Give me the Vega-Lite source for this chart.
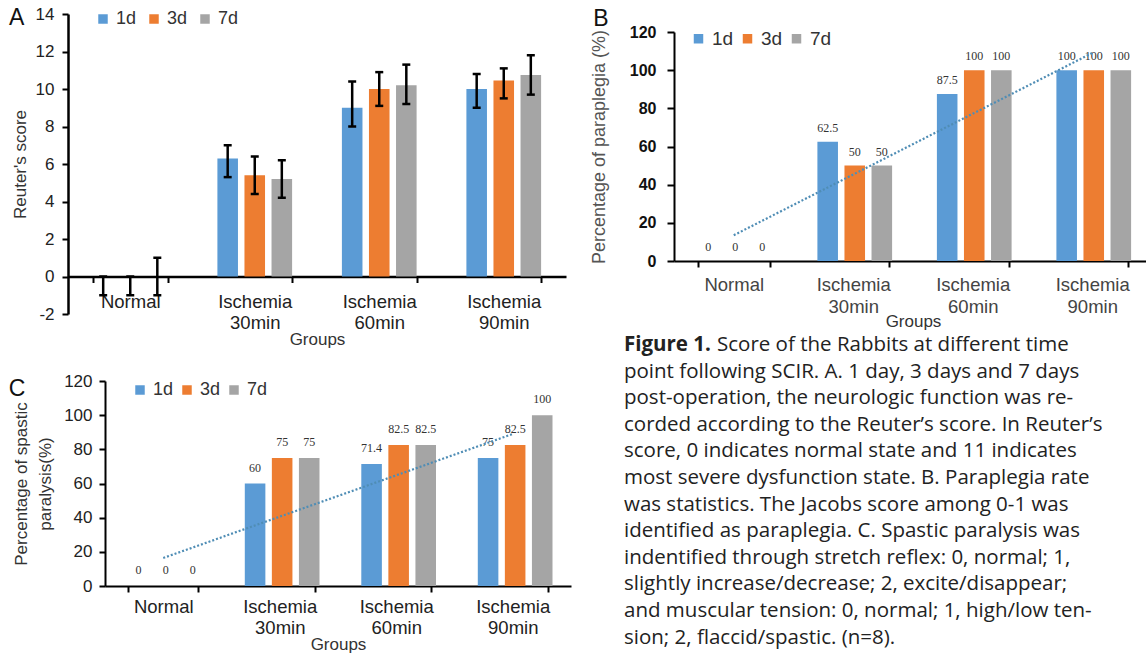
{
  "$schema": "https://vega.github.io/schema/vega-lite/v6.json",
  "background": "white",
  "padding": {"left": 8, "top": 5, "right": 0, "bottom": 0},
  "config": {
    "view": {"stroke": null},
    "font": "Liberation Sans",
    "axis": {"grid": false, "domainColor": "#000", "tickColor": "#000", "labelColor": "#222", "titleColor": "#333", "titleFontWeight": "normal", "titleFont": "Liberation Sans", "labelFont": "Liberation Sans"},
    "axisY": {"labelOverlap": false},
    "legend": {"orient": "none", "direction": "horizontal", "title": null, "symbolType": "square", "symbolSize": 90, "symbolStrokeWidth": 0, "labelFontSize": 18, "labelColor": "#333", "labelOffset": 4, "columnPadding": 8, "padding": 0},
    "title": {"fontWeight": "normal", "anchor": "start", "frame": "bounds", "fontSize": 23, "color": "#111", "font": "Liberation Sans"}
  },
  "datasets": {
    "reuter": [
      {"group": "Normal", "day": "1d", "score": 0, "lo": -1, "hi": 0},
      {"group": "Normal", "day": "3d", "score": 0, "lo": -1, "hi": 0},
      {"group": "Normal", "day": "7d", "score": 0, "lo": -1, "hi": 1},
      {"group": "Ischemia 30min", "day": "1d", "score": 6.3, "lo": 5.3, "hi": 7.0},
      {"group": "Ischemia 30min", "day": "3d", "score": 5.4, "lo": 4.4, "hi": 6.4},
      {"group": "Ischemia 30min", "day": "7d", "score": 5.2, "lo": 4.2, "hi": 6.2},
      {"group": "Ischemia 60min", "day": "1d", "score": 9.0, "lo": 8.0, "hi": 10.4},
      {"group": "Ischemia 60min", "day": "3d", "score": 10.0, "lo": 9.1, "hi": 10.9},
      {"group": "Ischemia 60min", "day": "7d", "score": 10.2, "lo": 9.2, "hi": 11.3},
      {"group": "Ischemia 90min", "day": "1d", "score": 10.0, "lo": 9.0, "hi": 10.8},
      {"group": "Ischemia 90min", "day": "3d", "score": 10.45, "lo": 9.5, "hi": 11.1},
      {"group": "Ischemia 90min", "day": "7d", "score": 10.75, "lo": 9.7, "hi": 11.8}
    ],
    "para": [
      {"group": "Normal", "day": "1d", "rate": 0},
      {"group": "Normal", "day": "3d", "rate": 0},
      {"group": "Normal", "day": "7d", "rate": 0},
      {"group": "Ischemia 30min", "day": "1d", "rate": 62.5},
      {"group": "Ischemia 30min", "day": "3d", "rate": 50},
      {"group": "Ischemia 30min", "day": "7d", "rate": 50},
      {"group": "Ischemia 60min", "day": "1d", "rate": 87.5},
      {"group": "Ischemia 60min", "day": "3d", "rate": 100},
      {"group": "Ischemia 60min", "day": "7d", "rate": 100},
      {"group": "Ischemia 90min", "day": "1d", "rate": 100},
      {"group": "Ischemia 90min", "day": "3d", "rate": 100},
      {"group": "Ischemia 90min", "day": "7d", "rate": 100}
    ],
    "spastic": [
      {"group": "Normal", "day": "1d", "rate": 0},
      {"group": "Normal", "day": "3d", "rate": 0},
      {"group": "Normal", "day": "7d", "rate": 0},
      {"group": "Ischemia 30min", "day": "1d", "rate": 60},
      {"group": "Ischemia 30min", "day": "3d", "rate": 75},
      {"group": "Ischemia 30min", "day": "7d", "rate": 75},
      {"group": "Ischemia 60min", "day": "1d", "rate": 71.4},
      {"group": "Ischemia 60min", "day": "3d", "rate": 82.5},
      {"group": "Ischemia 60min", "day": "7d", "rate": 82.5},
      {"group": "Ischemia 90min", "day": "1d", "rate": 75},
      {"group": "Ischemia 90min", "day": "3d", "rate": 82.5},
      {"group": "Ischemia 90min", "day": "7d", "rate": 100}
    ],
    "trendB": [
      {"group": "Normal", "value": 13.5},
      {"group": "Ischemia 90min", "value": 109}
    ],
    "trendC": [
      {"group": "Normal", "value": 16.4},
      {"group": "Ischemia 90min", "value": 89}
    ],
    "caption": [
      {"head": "Figure 1.", "first": "Score of the Rabbits at different time", "body": "point following SCIR. A. 1 day, 3 days and 7 days\npost-operation, the neurologic function was re-\ncorded according to the Reuter’s score. In Reuter’s\nscore, 0 indicates normal state and 11 indicates\nmost severe dysfunction state. B. Paraplegia rate\nwas statistics. The Jacobs score among 0-1 was\nidentified as paraplegia. C. Spastic paralysis was\nindentified through stretch reflex: 0, normal; 1,\nslightly increase/decrease; 2, excite/disappear;\nand muscular tension: 0, normal; 1, high/low ten-\nsion; 2, flaccid/spastic. (n=8)."}
    ]
  },
  "resolve": {"scale": {"color": "independent"}, "legend": {"color": "independent"}},
  "spacing": 19,
  "hconcat": [
    {
      "concat": [
        {
          "width": 498, "height": 300,
          "title": {"text": "A", "offset": -25, "dx": -2},
          "data": {"name": "reuter"},
          "layer": [
            {
              "mark": {"type": "bar"},
              "encoding": {
                "x": {"field": "group", "type": "nominal", "sort": null, "scale": {"domain": ["Normal", "Ischemia 30min", "Ischemia 60min", "Ischemia 90min"], "paddingInner": 0.4, "paddingOuter": 0.2},
                  "axis": {"title": "Groups", "offset": -37.5, "labelExpr": "split(datum.label, ' ')", "labelAngle": 0, "tickBand": "extent", "tickSize": 6, "tickWidth": 2, "domainWidth": 2.5, "labelFontSize": 18.5, "labelPadding": 9.5, "labelLineHeight": 21, "titleFontSize": 17, "titlePadding": 0}},
                "xOffset": {"field": "day", "type": "nominal", "sort": null, "scale": {"paddingInner": 0.24}},
                "y": {"field": "score", "type": "quantitative", "scale": {"domain": [-2, 14]},
                  "axis": {"values": [-2, 0, 2, 4, 6, 8, 10, 12, 14], "labelOverlap": false, "labelExpr": "datum.value + ''", "title": "Reuter's score", "titleFontSize": 17, "titlePadding": 6, "labelFontSize": 17, "labelPadding": 8, "tickSize": 6, "tickWidth": 2, "domainWidth": 2.5}},
                "color": {"field": "day", "type": "nominal", "scale": {"domain": ["1d", "3d", "7d"], "range": ["#5B9BD5", "#ED7D31", "#A5A5A5"]}, "legend": {"legendX": 26, "legendY": -4}}
              }
            },
            {
              "mark": {"type": "rule", "strokeWidth": 2.5, "color": "#000"},
              "encoding": {
                "x": {"field": "group", "type": "nominal", "sort": null},
                "xOffset": {"field": "day", "type": "nominal", "sort": null},
                "y": {"field": "lo", "type": "quantitative",
                  "axis": {"values": [-2, 0, 2, 4, 6, 8, 10, 12, 14], "labelOverlap": false, "labelExpr": "datum.value + ''", "title": "Reuter's score", "titleFontSize": 17, "titlePadding": 6, "labelFontSize": 17, "labelPadding": 8, "tickSize": 6, "tickWidth": 2, "domainWidth": 2.5}},
                "y2": {"field": "hi"}
              }
            },
            {
              "mark": {"type": "tick", "size": 8, "thickness": 2.5, "color": "#000", "opacity": 1},
              "encoding": {
                "x": {"field": "group", "type": "nominal", "sort": null},
                "xOffset": {"field": "day", "type": "nominal", "sort": null},
                "y": {"field": "lo", "type": "quantitative",
                  "axis": {"values": [-2, 0, 2, 4, 6, 8, 10, 12, 14], "labelOverlap": false, "labelExpr": "datum.value + ''", "title": "Reuter's score", "titleFontSize": 17, "titlePadding": 6, "labelFontSize": 17, "labelPadding": 8, "tickSize": 6, "tickWidth": 2, "domainWidth": 2.5}}
              }
            },
            {
              "mark": {"type": "tick", "size": 8, "thickness": 2.5, "color": "#000", "opacity": 1},
              "encoding": {
                "x": {"field": "group", "type": "nominal", "sort": null},
                "xOffset": {"field": "day", "type": "nominal", "sort": null},
                "y": {"field": "hi", "type": "quantitative",
                  "axis": {"values": [-2, 0, 2, 4, 6, 8, 10, 12, 14], "labelOverlap": false, "labelExpr": "datum.value + ''", "title": "Reuter's score", "titleFontSize": 17, "titlePadding": 6, "labelFontSize": 17, "labelPadding": 8, "tickSize": 6, "tickWidth": 2, "domainWidth": 2.5}}
              }
            }
          ]
        },
        {
          "width": 503, "height": 205,
          "title": {"text": "C", "offset": -29, "dx": -4},
          "layer": [
            {
              "data": {"name": "spastic"},
              "mark": {"type": "bar"},
              "encoding": {
                "x": {"field": "group", "type": "nominal", "sort": null, "scale": {"domain": ["Normal", "Ischemia 30min", "Ischemia 60min", "Ischemia 90min"], "range": [37, 503], "paddingInner": 0.4, "paddingOuter": 0.2},
                  "axis": {"title": "Groups", "labelExpr": "split(datum.label, ' ')", "labelAngle": 0, "tickBand": "extent", "tickSize": 6, "tickWidth": 2, "domainWidth": 2, "labelFontSize": 18.5, "labelPadding": 5, "labelLineHeight": 21, "titleFontSize": 17, "titlePadding": 0}},
                "xOffset": {"field": "day", "type": "nominal", "sort": null, "scale": {"paddingInner": 0.25}},
                "y": {"field": "rate", "type": "quantitative", "scale": {"domain": [0, 120]},
                  "axis": {"values": [0, 20, 40, 60, 80, 100, 120], "labelOverlap": false, "offset": -37, "title": ["Percentage of spastic", "paralysis(%)"], "titleLineHeight": 24, "titleFontSize": 17, "titlePadding": 9, "labelFontSize": 17, "labelPadding": 7, "tickSize": 6, "tickWidth": 2, "domainWidth": 2}},
                "color": {"field": "day", "type": "nominal", "scale": {"domain": ["1d", "3d", "7d"], "range": ["#5B9BD5", "#ED7D31", "#A5A5A5"]}, "legend": {"legendX": 63, "legendY": 0, "columnPadding": 4}}
              }
            },
            {
              "data": {"name": "spastic"},
              "mark": {"type": "text", "dy": -16, "fontSize": 12, "font": "Liberation Serif", "color": "#333"},
              "encoding": {
                "x": {"field": "group", "type": "nominal", "sort": null},
                "xOffset": {"field": "day", "type": "nominal", "sort": null},
                "y": {"field": "rate", "type": "quantitative",
                  "axis": {"values": [0, 20, 40, 60, 80, 100, 120], "labelOverlap": false, "offset": -37, "title": ["Percentage of spastic", "paralysis(%)"], "titleLineHeight": 24, "titleFontSize": 17, "titlePadding": 9, "labelFontSize": 17, "labelPadding": 7, "tickSize": 6, "tickWidth": 2, "domainWidth": 2}},
                "text": {"field": "rate", "type": "quantitative", "format": "~g"}
              }
            },
            {
              "data": {"name": "trendC"},
              "mark": {"type": "line", "strokeDash": [2, 2], "strokeWidth": 2.2, "color": "#4F8DB5"},
              "encoding": {
                "x": {"field": "group", "type": "nominal", "sort": null},
                "y": {"field": "value", "type": "quantitative",
                  "axis": {"values": [0, 20, 40, 60, 80, 100, 120], "labelOverlap": false, "offset": -37, "title": ["Percentage of spastic", "paralysis(%)"], "titleLineHeight": 24, "titleFontSize": 17, "titlePadding": 9, "labelFontSize": 17, "labelPadding": 7, "tickSize": 6, "tickWidth": 2, "domainWidth": 2}}
              }
            }
          ]
        }
      ],
      "columns": 1,
      "align": "none",
      "spacing": 24,
      "resolve": {"scale": {"color": "independent"}, "legend": {"color": "independent"}}
    },
    {
      "concat": [
        {
          "width": 478, "height": 247,
          "title": {"text": "B", "offset": -17, "dx": 3},
          "layer": [
            {
              "data": {"name": "para"},
              "mark": {"type": "bar"},
              "encoding": {
                "x": {"field": "group", "type": "nominal", "sort": null, "scale": {"domain": ["Normal", "Ischemia 30min", "Ischemia 60min", "Ischemia 90min"], "paddingInner": 0.4, "paddingOuter": 0.2},
                  "axis": {"title": "Groups", "labelExpr": "split(datum.label, ' ')", "labelAngle": 0, "tickBand": "extent", "tickSize": 6, "tickWidth": 2, "domainWidth": 2, "labelFontSize": 18.5, "labelPadding": 8, "labelLineHeight": 22, "labelColor": "#444", "titleFontSize": 17, "titlePadding": -2}},
                "xOffset": {"field": "day", "type": "nominal", "sort": null, "scale": {"paddingInner": 0.24}},
                "y": {"field": "rate", "type": "quantitative", "scale": {"domain": [0, 120], "range": [247, 18]},
                  "axis": {"values": [0, 20, 40, 60, 80, 100, 120], "labelOverlap": false, "title": "Percentage of paraplegia (%)", "titleFontSize": 18, "titleColor": "#555", "titlePadding": 21, "labelFontSize": 16, "labelFontWeight": "bold", "labelColor": "#111", "labelPadding": 11, "tickSize": 7, "tickWidth": 2, "domainWidth": 2}},
                "color": {"field": "day", "type": "nominal", "scale": {"domain": ["1d", "3d", "7d"], "range": ["#5B9BD5", "#ED7D31", "#A5A5A5"]}, "legend": {"legendX": 15, "legendY": 15, "labelFontSize": 19, "columnPadding": 4}}
              }
            },
            {
              "data": {"name": "para"},
              "mark": {"type": "text", "dy": -14, "fontSize": 12, "font": "Liberation Serif", "color": "#333"},
              "encoding": {
                "x": {"field": "group", "type": "nominal", "sort": null},
                "xOffset": {"field": "day", "type": "nominal", "sort": null},
                "y": {"field": "rate", "type": "quantitative"},
                "text": {"field": "rate", "type": "quantitative", "format": "~g"}
              }
            },
            {
              "data": {"name": "trendB"},
              "mark": {"type": "line", "strokeDash": [2, 2], "strokeWidth": 2.2, "color": "#4F8DB5"},
              "encoding": {
                "x": {"field": "group", "type": "nominal", "sort": null},
                "y": {"field": "value", "type": "quantitative"}
              }
            }
          ]
        },
        {
          "width": 400, "height": 300,
          "data": {"name": "caption"},
          "layer": [
            {
              "mark": {"type": "text", "align": "left", "baseline": "top", "fontSize": 20.5, "fontWeight": "bold", "font": "Open Sans", "color": "#222", "dx": -50},
              "encoding": {"x": {"value": 0}, "y": {"value": 0}, "text": {"field": "head"}}
            },
            {
              "mark": {"type": "text", "align": "left", "baseline": "top", "fontSize": 20.5, "font": "Open Sans", "color": "#222", "dx": 43},
              "encoding": {"x": {"value": 0}, "y": {"value": 0}, "text": {"field": "first"}}
            },
            {
              "mark": {"type": "text", "align": "left", "baseline": "top", "fontSize": 20.5, "font": "Open Sans", "color": "#222", "dx": -50, "dy": 26.6, "lineBreak": "\n", "lineHeight": 26.6},
              "encoding": {"x": {"value": 0}, "y": {"value": 0}, "text": {"field": "body"}}
            }
          ]
        }
      ],
      "columns": 1,
      "align": "none",
      "spacing": 5,
      "resolve": {"scale": {"color": "independent"}, "legend": {"color": "independent"}}
    }
  ]
}
